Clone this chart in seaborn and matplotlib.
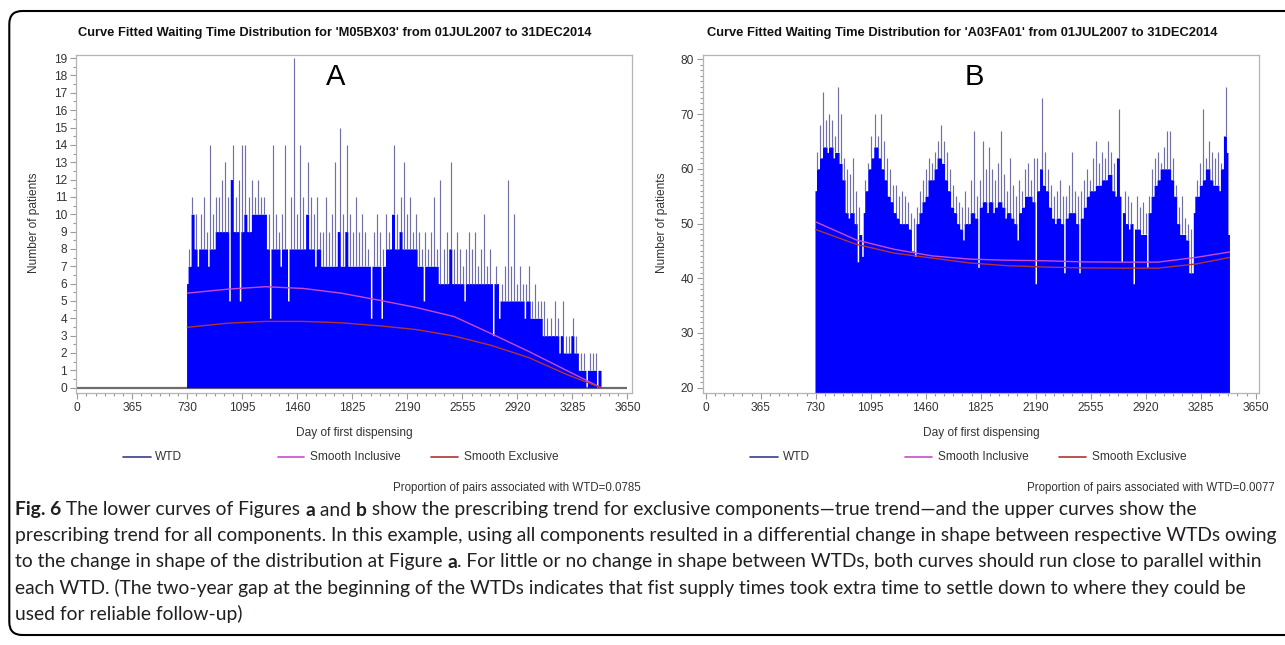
import numpy as np
import pandas as pd
import seaborn as sns
import matplotlib
matplotlib.use("Agg")
import matplotlib.pyplot as plt
from matplotlib.lines import Line2D
from matplotlib.patches import FancyBboxPatch
from matplotlib.ticker import AutoMinorLocator

W, H, DPI = 1285, 645, 100

sns.set_theme(style="white")
plt.rcParams["font.family"] = ["Liberation Sans", "DejaVu Sans"]

# ---------------------------------------------------------------- data
x_ticks = [0, 365, 730, 1095, 1460, 1825, 2190, 2555, 2920, 3285, 3650]
first_day = 730
day_step = 10

# daily counts sampled every 10 days from day 730 to day 3470
wtd_a = [
    6, 8, 7, 11, 10, 8, 10, 7, 8, 10,       # 730-820
    8, 11, 8, 9, 7, 14, 8, 10, 8, 11,       # 830-920
    9, 11, 9, 12, 9, 13, 9, 11, 5, 12,      # 930-1020
    14, 9, 11, 9, 12, 5, 14, 9, 14, 10,     # 1030-1120
    9, 11, 9, 12, 10, 11, 10, 12, 10, 11,   # 1130-1220
    10, 11, 10, 8, 10, 4, 8, 14, 8, 10,     # 1230-1320
    8, 9, 7, 10, 8, 14, 8, 5, 8, 11,        # 1330-1420
    8, 19, 8, 10, 8, 14, 8, 11, 8, 10,      # 1430-1520
    13, 8, 11, 8, 10, 7, 11, 8, 9, 7,       # 1530-1620
    9, 7, 11, 7, 9, 7, 10, 7, 13, 7,        # 1630-1720
    9, 15, 7, 10, 7, 9, 14, 7, 10, 7,       # 1730-1820
    9, 7, 11, 7, 9, 7, 10, 7, 9, 7,         # 1830-1920
    8, 7, 4, 7, 9, 7, 10, 7, 9, 4,          # 1930-2020
    8, 7, 10, 8, 9, 8, 10, 14, 8, 10,       # 2030-2120
    8, 9, 11, 8, 13, 8, 10, 8, 11, 8,       # 2130-2220
    9, 8, 10, 7, 9, 7, 8, 5, 9, 7,          # 2230-2320
    8, 7, 9, 7, 11, 7, 8, 6, 12, 6,         # 2330-2420
    8, 6, 9, 6, 8, 13, 6, 8, 6, 9,          # 2430-2520
    6, 8, 6, 7, 5, 8, 6, 9, 6, 8,           # 2530-2620
    6, 9, 6, 7, 6, 8, 6, 10, 6, 7,          # 2630-2720
    6, 8, 6, 3, 6, 7, 6, 4, 5, 6,           # 2730-2820
    5, 7, 5, 12, 5, 7, 5, 10, 5, 6,         # 2830-2920
    5, 7, 5, 6, 4, 6, 5, 7, 4, 5,           # 2930-3020
    4, 6, 4, 5, 4, 5, 3, 5, 3, 4,           # 3030-3120
    3, 4, 3, 3, 5, 3, 4, 2, 3, 5,           # 3130-3220
    2, 3, 2, 3, 2, 3, 4, 2, 3, 2,           # 3230-3320
    1, 2, 1, 2, 1, 0, 1, 2, 1, 2,           # 3330-3420
    1, 2, 0, 1, 1,                          # 3430-3470
]

wtd_b = [
    56, 63, 60, 68, 62, 74, 64, 69, 63, 70,  # 730-820
    64, 69, 62, 66, 63, 75, 61, 70, 58, 62,  # 830-920
    52, 60, 51, 59, 52, 62, 50, 56, 43, 53,  # 930-1020
    48, 44, 52, 58, 56, 61, 60, 66, 62, 70,  # 1030-1120
    64, 66, 62, 70, 60, 65, 58, 62, 55, 60,  # 1130-1220
    54, 57, 52, 57, 51, 55, 50, 56, 50, 55,  # 1230-1320
    50, 54, 49, 52, 45, 51, 44, 53, 50, 56,  # 1330-1420
    52, 58, 54, 60, 55, 62, 58, 61, 58, 63,  # 1430-1520
    60, 65, 62, 68, 61, 65, 58, 63, 56, 60,  # 1530-1620
    53, 57, 52, 55, 50, 54, 49, 53, 47, 56,  # 1630-1720
    50, 53, 50, 58, 52, 67, 51, 55, 42, 58,  # 1730-1820
    53, 65, 54, 60, 52, 64, 54, 60, 52, 58,  # 1830-1920
    53, 61, 54, 67, 53, 59, 51, 56, 52, 62,  # 1930-2020
    51, 57, 50, 55, 47, 58, 52, 56, 53, 60,  # 2030-2120
    55, 61, 55, 58, 54, 62, 39, 62, 56, 60,  # 2130-2220
    73, 57, 63, 56, 60, 53, 57, 51, 55, 50,  # 2230-2320
    56, 51, 58, 50, 55, 41, 55, 51, 57, 52,  # 2330-2420
    63, 52, 56, 50, 55, 41, 56, 51, 58, 53,  # 2430-2520
    60, 55, 58, 56, 62, 56, 65, 57, 61, 57,  # 2530-2620
    63, 58, 62, 58, 65, 59, 63, 56, 61, 55,  # 2630-2720
    62, 71, 55, 43, 52, 56, 50, 55, 49, 54,  # 2730-2820
    50, 39, 49, 55, 49, 53, 48, 54, 48, 52,  # 2830-2920
    42, 55, 52, 60, 55, 62, 57, 63, 58, 61,  # 2930-3020
    60, 64, 60, 67, 60, 67, 58, 62, 55, 57,  # 3030-3120
    50, 53, 48, 55, 48, 51, 47, 50, 41, 49,  # 3130-3220
    41, 52, 55, 58, 55, 61, 57, 71, 58, 62,  # 3230-3320
    60, 65, 58, 63, 57, 62, 57, 63, 56, 61,  # 3330-3420
    60, 66, 75, 63, 48,                      # 3430-3470
]

smooth_days = [730, 1000, 1250, 1500, 1750, 2000, 2250, 2500, 2750, 3000, 3250, 3475]
incl_a = [5.45, 5.68, 5.82, 5.72, 5.45, 5.05, 4.62, 4.10, 3.10, 2.07, 0.98, 0.0]
excl_a = [3.48, 3.72, 3.82, 3.82, 3.74, 3.57, 3.35, 2.98, 2.43, 1.72, 0.75, 0.0]
incl_b = [50.3, 47.0, 45.3, 44.1, 43.5, 43.3, 43.2, 43.0, 42.95, 42.95, 43.8, 44.8]
excl_b = [48.9, 46.2, 44.6, 43.7, 42.8, 42.3, 42.05, 41.9, 41.85, 41.85, 42.6, 43.8]

titles = [
    "Curve Fitted Waiting Time Distribution for 'M05BX03' from 01JUL2007 to 31DEC2014",
    "Curve Fitted Waiting Time Distribution for 'A03FA01' from 01JUL2007 to 31DEC2014",
]
panel_letters = ["A", "B"]
proportions = ["0.0785", "0.0077"]
series_names = ["WTD", "Smooth Inclusive", "Smooth Exclusive"]

# ---------------------------------------------------------------- style
BLUE = "#0000ff"
SPIKE = "#7070a8"
WTD_LINE = "#3c3c90"
INCL = "#c94ad2"
EXCL = "#b23434"
TEXT = "#333333"
FRAME = "#b4b4b4"
TICK = "#9a9a9a"
FS = 8.6

fig = plt.figure(figsize=(W / DPI, H / DPI), dpi=DPI)
fig.patch.set_facecolor("white")


def axes_rect(left, top, right, bottom):
    return [left / W, 1 - bottom / H, (right - left) / W, (bottom - top) / H]


def draw_panel(ax, counts, incl, excl, xlim, ylim, yticks, yminor, baseline):
    counts = np.asarray(counts, dtype=float)
    days = first_day + day_step * np.arange(len(counts))
    prev = np.r_[-np.inf, counts[:-1]]
    nxt = np.r_[counts[1:], -np.inf]
    # dense part of the needle plot; isolated peaks are drawn as thin needles
    solid = np.minimum(counts, np.maximum(prev, nxt))
    frame = pd.DataFrame({"day": days, "solid": solid})
    if baseline:
        ax.hlines(0, x_ticks[0], x_ticks[-1], color="#6e6e6e", lw=1.6, zorder=1)
    sns.histplot(data=frame, x="day", weights="solid", binwidth=day_step,
                 binrange=(days[0] - day_step / 2, days[-1] + day_step / 2),
                 element="step", fill=True, color=BLUE, alpha=1, linewidth=0,
                 ax=ax)
    ax.vlines(days, solid, counts, color=SPIKE, lw=0.85, zorder=3)
    sns.lineplot(x=smooth_days, y=incl, color=INCL, lw=1.0, ax=ax, zorder=4)
    sns.lineplot(x=smooth_days, y=excl, color=EXCL, lw=1.0, ax=ax, zorder=4)

    ax.set_xlim(*xlim)
    ax.set_ylim(*ylim)
    ax.set_xticks(x_ticks)
    ax.xaxis.set_minor_locator(AutoMinorLocator(6))
    ax.set_yticks(yticks)
    ax.yaxis.set_minor_locator(AutoMinorLocator(yminor))
    ax.set_xlabel("")
    ax.set_ylabel("")
    ax.tick_params(which="both", bottom=True, left=True, top=False, right=False,
                   direction="out", color=TICK, width=0.8)
    ax.tick_params(which="major", length=4, labelsize=FS, labelcolor=TEXT, pad=2.5)
    ax.tick_params(which="minor", length=2.2)
    for spine in ax.spines.values():
        spine.set_color(FRAME)
        spine.set_linewidth(0.9)
    ax.grid(False)


ax_a = fig.add_axes(axes_rect(76, 55, 631.7, 392.7))
draw_panel(ax_a, wtd_a, incl_a, excl_a, xlim=(-8.6, 3678.8), ylim=(-0.29, 19.18),
           yticks=list(range(0, 20)), yminor=2, baseline=True)

ax_b = fig.add_axes(axes_rect(702.7, 55, 1259.3, 392.7))
draw_panel(ax_b, wtd_b, incl_b, excl_b, xlim=(-19.9, 3673.0), ylim=(19.09, 80.8),
           yticks=list(range(20, 81, 10)), yminor=10, baseline=False)

# ---------------------------------------------------------------- overlay in pixel units
ov = fig.add_axes([0, 0, 1, 1], facecolor="none")
ov.set_xlim(0, W)
ov.set_ylim(H, 0)
ov.axis("off")

ov.add_patch(FancyBboxPatch((9.3, 11), 1330, 624,
                            boxstyle="round,pad=0,rounding_size=13",
                            fill=False, ec="black", lw=1.5))

renderer = fig.canvas.get_renderer()


def fit_size(text, target, base=9.0, **kw):
    t = ov.text(0, 0, text, fontsize=base, **kw)
    w = t.get_window_extent(renderer).width
    t.remove()
    return base * target / w


title_size = fit_size(titles[0], 516, weight="bold")
shift = 627.6
for k in range(2):
    dx = k * shift
    ov.text(334.7 + dx, 32.7, titles[k], ha="center", va="center",
            fontsize=title_size, weight="bold", color="#111111")
    ov.text([335.5, 974.0][k], 76.7, panel_letters[k], ha="center", va="center",
            fontsize=21, color="black")
    ov.text(34.5 + dx, 223, "Number of patients", rotation=90, ha="center",
            va="center", fontsize=FS, color=TEXT)
    ov.text(353.9 + dx, 433, "Day of first dispensing", ha="center", va="center",
            fontsize=FS, color=TEXT)
    for (x0, x1, tx), name, col in zip(
            [(122.7, 150.7, 155.3), (277.6, 304.0, 310.2), (431.4, 458.0, 464.0)],
            series_names, [WTD_LINE, INCL, EXCL]):
        ov.add_line(Line2D([x0 + dx, x1 + dx], [456.7, 456.7], color=col, lw=1.2))
        ov.text(tx + dx, 456.7, name, ha="left", va="center", fontsize=FS, color=TEXT)
    ov.text([641.0, 1275.0][k], 488.3,
            f"Proportion of pairs associated with WTD={proportions[k]}",
            ha="right", va="center", fontsize=FS - 0.3, color=TEXT)

# ---------------------------------------------------------------- caption
CAP_FONT = ["Lato", "DejaVu Sans"]
caption_lines = [
    [("Fig. 6", "bold"), (" The lower curves of Figures ", "normal"), ("a", "bold"),
     (" and ", "normal"), ("b", "bold"),
     (" show the prescribing trend for exclusive components\u2014true trend\u2014and the upper curves show the", "normal")],
    [("prescribing trend for all components. In this example, using all components resulted in a differential change in shape between respective WTDs owing", "normal")],
    [("to the change in shape of the distribution at Figure ", "normal"), ("a", "bold"),
     (". For little or no change in shape between WTDs, both curves should run close to parallel within", "normal")],
    [("each WTD. (The two-year gap at the beginning of the WTDs indicates that fist supply times took extra time to settle down to where they could be", "normal")],
    [("used for reliable follow-up)", "normal")],
]
cap_size = fit_size(caption_lines[1][0][0], 1257, base=12, family=CAP_FONT)
cap_y = [510, 536, 562, 588, 614]
for segs, y in zip(caption_lines, cap_y):
    x = 15.0
    for txt, wt in segs:
        t = ov.text(x, y, txt, ha="left", va="center", fontsize=cap_size,
                    weight=wt, family=CAP_FONT, color="#231f20")
        x += t.get_window_extent(renderer).width

fig.savefig("out.png", dpi=DPI, facecolor="white")
